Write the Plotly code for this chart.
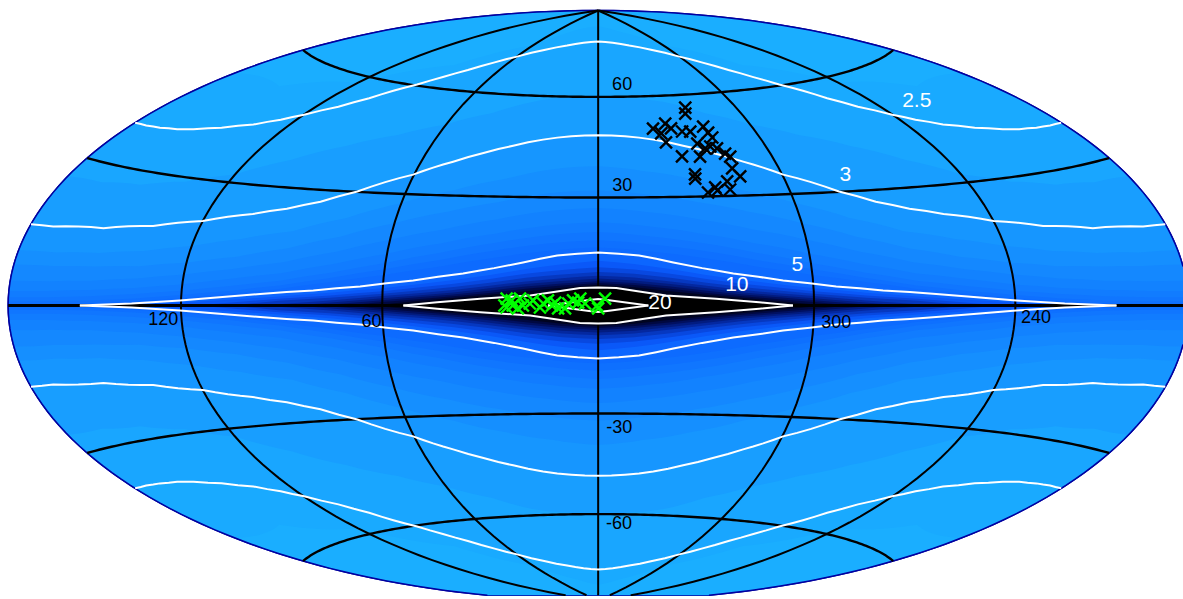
import plotly.graph_objects as go

# Contour read-offs: galactic longitude |l| (deg) and upper latitude b (deg); sky is symmetric in both
C25_L = [0, 15, 29.5, 45, 59.8, 69, 77.7, 85, 91.8, 103.6, 111, 119.8, 126, 133.8, 144, 153.8, 160, 167.5, 174, 180]
C25_B = [78.5, 78.0, 76.8, 74.9, 71.9, 69.4, 66.2, 63.3, 60.3, 54.9, 51.6, 48.3, 46.2, 44.0, 41.9, 40.3, 39.5, 38.9, 38.5, 38.3]
C3_L = [0, 10, 20.3, 30.5, 40, 49.1, 60.3, 75.5, 85.5, 95, 105, 120, 135.6, 152.4, 171, 180]
C3_B = [48.2, 47.8, 46.7, 44.7, 42.3, 39.5, 35.4, 30.1, 26.9, 24.6, 22.8, 20.3, 18.3, 16.9, 16.1, 16.0]
C5_L = [0, 11.5, 21, 29, 37.6, 51.5, 66.5, 80, 95.7, 108, 120.3, 136, 153.6]
C5_B = [14.6, 13.75, 11.8, 10.2, 8.7, 6.7, 5.0, 3.9, 2.9, 2.0, 1.2, 0.46, 0]
C10_L = [0, 5, 11.3, 18.7, 32.5, 44.5, 54]
C10_B = [4.95, 4.8, 3.84, 2.74, 1.82, 0.89, 0]
C20_L = [0, 2.5, 13.8]
C20_B = [1.8, 1.5, 0]

L13 = [0, 15, 30, 45, 60, 75, 90, 105, 120, 135, 150, 165, 180]

# Colour bands, outermost first: (|l| list, b list, colour)
BANDS = [
    (L13, [89.9] * 13, "#1aaeff"),
    ([0, 30, 60, 90, 120, 150, 180], [84, 82, 76, 67, 58, 53, 52], "#19aaff"),
    (C25_L, C25_B, "#19a6ff"),
    (L13, [60, 59.4, 58, 54, 50, 46, 42, 37, 32, 29, 27, 26.2, 26], "#189eff"),
    (C3_L, C3_B, "#1696ff"),
    (L13, [39, 37.5, 35, 31.5, 27.5, 23, 19, 16.5, 14.2, 12.5, 11.5, 11, 10.8], "#158fff"),
    (L13, [32, 30.8, 28.5, 25.5, 22, 18, 14.5, 12, 10.2, 9, 8.5, 8.2, 8], "#1488ff"),
    (L13, [27, 25.8, 23.6, 20.6, 17.5, 14, 11, 9, 7.4, 6.2, 5.4, 5, 4.8], "#1282ff"),
    (L13, [23, 21.8, 19.6, 16.8, 13.8, 10.8, 8.2, 6.6, 5, 4, 3.4, 3, 2.8], "#117cff"),
    (L13, [20.3, 19, 17, 14.2, 11.3, 8.6, 6.3, 4.8, 3.5, 2.6, 2, 1.7, 1.6], "#1076ff"),
    (L13, [18, 16.8, 14.9, 12.2, 9.6, 7.2, 5.1, 3.6, 2.5, 1.6, 1.1, 0.9, 0.8], "#0e70ff"),
    (L13, [16, 14.8, 12.9, 10.4, 8.1, 6.1, 4.2, 2.9, 1.8, 1, 0.5, 0.3, 0.3], "#0d6bff"),
    (C5_L, C5_B, "#0c66ff"),
    ([0, 10, 20, 30, 40, 50, 60, 75, 90, 105, 120, 135],
     [12.3, 11.4, 10, 8.3, 6.9, 5.7, 4.6, 3.3, 2.3, 1.4, 0.7, 0], "#0a58f8"),
    ([0, 10, 20, 30, 40, 50, 60, 75, 90, 115], [10.5, 9.9, 8.7, 7.2, 5.9, 4.8, 3.8, 2.6, 1.7, 0], "#0848e0"),
    ([0, 10, 20, 30, 40, 50, 60, 75, 90, 105], [9.2, 8.7, 7.6, 6.2, 5, 4, 3.1, 2, 1.2, 0], "#0638c0"),
    ([0, 10, 20, 30, 40, 50, 60, 75, 95], [8.2, 7.7, 6.6, 5.4, 4.2, 3.3, 2.5, 1.3, 0], "#0428a0"),
    ([0, 10, 20, 30, 40, 50, 60, 72, 85], [7.4, 6.9, 5.9, 4.7, 3.5, 2.7, 1.9, 1, 0], "#021c80"),
    ([0, 10, 20, 30, 40, 50, 60, 78], [6.7, 6.2, 5.2, 4, 3, 2.2, 1.4, 0], "#011060"),
    ([0, 10, 20, 30, 40, 50, 60, 70], [6.2, 5.6, 4.6, 3.4, 2.5, 1.7, 0.9, 0], "#000840"),
    ([0, 10, 20, 30, 40, 50, 63], [5.7, 5, 3.9, 2.9, 2, 1.2, 0], "#000420"),
    (C10_L, C10_B, "#000000"),
]

# Graticule
MERIDIANS = [0, 60, 120, -60, -120]
PARALLELS = [-60, -30, 0, 30, 60]
MER_LATS = [-90, -75, -60, -45, -30, -15, 0, 15, 30, 45, 60, 75, 90]
PAR_LONS = [-179.99] + list(range(-178, 179, 2)) + [179.99]
RIM_LATS = list(range(-90, 91, 3))

# Black sample (geo longitude = -l)
BLACK_LON = [38.1, 36.7, 21.3, 26.7, 23.9, 28.3, 24.7, 32.1, 35.2, 41.1, 41.8, 42.4, 35.9, 38.0, 40.1,
             35.1, 28.9, 42.2, 44.2, 45.5, 44.4, 46.0, 41.2, 31.5, 31.2, 41.3, 36.8, 34.1, 37.2]
BLACK_LAT = [56.0, 54.2, 50.0, 51.4, 48.5, 49.9, 45.8, 48.9, 48.8, 50.1, 48.3, 46.8, 45.2, 43.7, 44.2,
             41.4, 41.6, 43.6, 42.0, 41.1, 37.7, 35.4, 34.1, 36.3, 35.1, 31.8, 32.5, 31.1, 31.6]
# Green sample (geo longitude = -l)
GREEN_LON = [-25.2, -25.8, -23.8, -23.5, -25.2, -21.5, -20.7, -22.1, -18.8, -17.9, -16, -15.1, -13.8,
             -12.7, -11.8, -11, -9.1, -8.2, -6.9, -5.5, -4.9, -3.6, -0.3, 0, 1.9]
GREEN_LAT = [1.9, 0, 1.4, 0, -0.55, 1.9, 0, -0.8, 0.55, 1.4, -0.55, 0.55, 1.4,
             0, 0.8, -0.8, -0.8, 0.55, 1.4, 0.8, 1.9, 0.55, 0, -0.8, 1.9]

TICK_TEXT = ["60", "30", "-30", "-60", "120", "60", "300", "240"]
TICK_LON = [12.6, 7.6, 6.7, 10.9, -125.9, -63.2, 66.5, 126.8]
TICK_LAT = [63.6, 33.1, -34.3, -63.3, -3.5, -4.5, -4.7, -3.0]
LEVEL_TEXT = ["2.5", "3", "5", "10", "20"]
LEVEL_LON = [138, 80.6, 56, 38.4, 17]
LEVEL_LAT = [50.1, 34.2, 10.7, 5.4, 0.55]

EDGE = 179.99


def side(b):
    """Latitudes running down the map edge from b to -b, so the rim stays curved."""
    n = max(2, int(2 * b / 5))
    return [b - 2 * b * i / n for i in range(1, n)]


def ring(ls, bs):
    """Closed outline starting at l=0 on top, eastward, round the edge and back."""
    tip = bs[-1] == 0
    east = [min(v, EDGE) for v in ls]
    lon = list(east)
    lat = list(bs)
    if not tip:
        s = side(bs[-1])
        lon += [EDGE] * len(s)
        lat += s
    lon += list(reversed(east[:-1] if tip else east)) + [-v for v in east[1:]]
    lat += [-v for v in reversed(bs[:-1] if tip else bs)] + [-v for v in bs[1:]]
    if not tip:
        s = side(bs[-1])
        lon += [-EDGE] * len(s)
        lat += [-v for v in s]
    lon += [-v for v in reversed(east[1:-1] if tip else east[1:])]
    lat += list(reversed(bs[1:-1] if tip else bs[1:]))
    return lon, lat


def upper_lower(ls, bs):
    east = [min(v, EDGE) for v in ls]
    lon = [-v for v in reversed(east[1:])] + east
    up = list(reversed(bs[1:])) + list(bs)
    return lon, up, [-v for v in up]


fig = go.Figure()
for ls, bs, col in BANDS:
    lon, lat = ring(ls, bs)
    fig.add_trace(go.Scattergeo(lon=lon, lat=lat, mode="lines", fill="toself", fillcolor=col,
                                line=dict(width=0, color=col), hoverinfo="skip", showlegend=False))

for sgn in (-1, 1):
    fig.add_trace(go.Scattergeo(lon=[sgn * EDGE] * len(RIM_LATS), lat=RIM_LATS, mode="lines",
                                line=dict(color="#0000a0", width=1.5), hoverinfo="skip", showlegend=False))

for m in MERIDIANS:
    fig.add_trace(go.Scattergeo(lon=[m] * len(MER_LATS), lat=MER_LATS, mode="lines",
                                line=dict(color="black", width=2), hoverinfo="skip", showlegend=False))
for p in PARALLELS:
    fig.add_trace(go.Scattergeo(lon=PAR_LONS, lat=[p] * len(PAR_LONS), mode="lines",
                                line=dict(color="black", width=3 if p == 0 else 2.4),
                                hoverinfo="skip", showlegend=False))

for ls, bs in [(C25_L, C25_B), (C3_L, C3_B), (C5_L, C5_B), (C10_L, C10_B), (C20_L, C20_B)]:
    lon, up, low = upper_lower(ls, bs)
    for la in (up, low):
        fig.add_trace(go.Scattergeo(lon=lon, lat=la, mode="lines", line=dict(color="white", width=2),
                                    hoverinfo="skip", showlegend=False))

fig.add_trace(go.Scattergeo(lon=BLACK_LON, lat=BLACK_LAT, mode="markers", hoverinfo="skip", showlegend=False,
                            marker=dict(symbol="x-thin", size=12, color="black",
                                        line=dict(color="black", width=2.4))))
fig.add_trace(go.Scattergeo(lon=GREEN_LON, lat=GREEN_LAT, mode="markers", hoverinfo="skip", showlegend=False,
                            marker=dict(symbol="x-thin", size=12, color="#00ff00",
                                        line=dict(color="#00ff00", width=2.4))))

fig.add_trace(go.Scattergeo(lon=TICK_LON, lat=TICK_LAT, mode="text", text=TICK_TEXT, hoverinfo="skip",
                            showlegend=False, textposition="middle center",
                            textfont=dict(family="Liberation Sans", size=18, color="black")))
fig.add_trace(go.Scattergeo(lon=LEVEL_LON, lat=LEVEL_LAT, mode="text", text=LEVEL_TEXT, hoverinfo="skip",
                            showlegend=False, textposition="middle center",
                            textfont=dict(family="Liberation Sans", size=21, color="white")))

fig.update_layout(
    width=1183, height=599, margin=dict(l=0, r=0, t=0, b=0), paper_bgcolor="white", showlegend=False,
    geo=dict(
        projection=dict(type="hammer", scale=0.9975, rotation=dict(lon=0, lat=0, roll=0)),
        center=dict(lon=-1.83, lat=1.65),
        domain=dict(x=[0, 1], y=[0, 1]),
        bgcolor="white",
        showframe=True, framecolor="#0000a0", framewidth=1.5,
        showcoastlines=False, showland=False, showocean=False, showlakes=False,
        showrivers=False, showcountries=False, showsubunits=False,
        lonaxis=dict(showgrid=False, range=[-180, 180]),
        lataxis=dict(showgrid=False, range=[-90, 90]),
    ),
)
fig.write_html("out.html", config={"displayModeBar": False}, post_script="document.body.style.margin='0';")
